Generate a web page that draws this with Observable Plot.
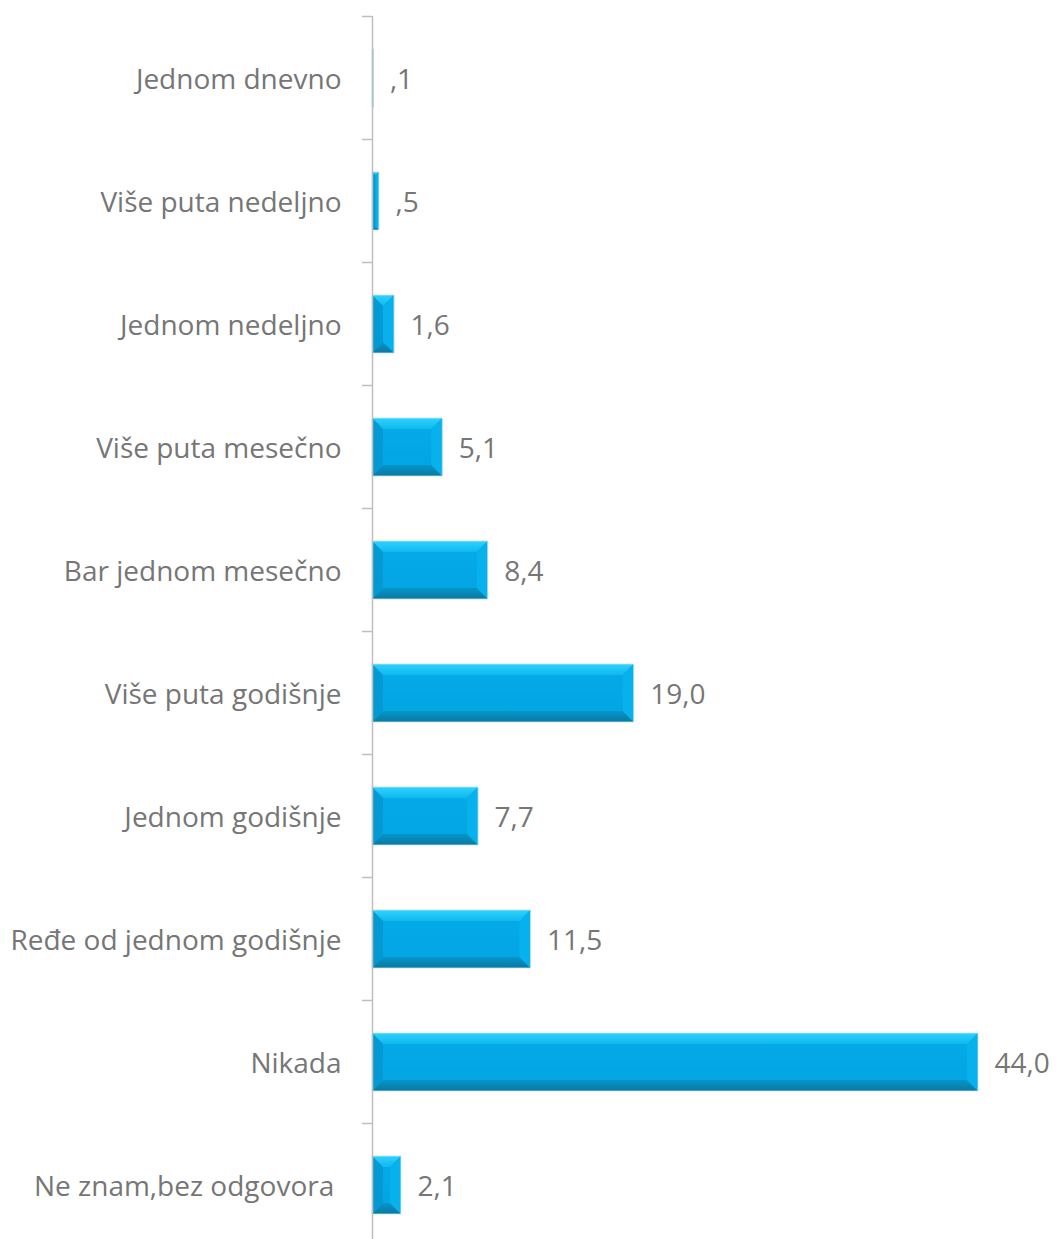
<!DOCTYPE html>
<html>
<head>
<meta charset="utf-8">
<script src="https://cdn.jsdelivr.net/npm/d3@7"></script>
<script src="https://cdn.jsdelivr.net/npm/@observablehq/plot@0.6"></script>
<style>
  html, body { margin: 0; padding: 0; background: #fff; }
  #chart svg { display: block; }
</style>
</head>
<body>
<div id="chart"></div>
<script>
const categories = [
  "Jednom dnevno",
  "Više puta nedeljno",
  "Jednom nedeljno",
  "Više puta mesečno",
  "Bar jednom mesečno",
  "Više puta godišnje",
  "Jednom godišnje",
  "Ređe od jednom godišnje",
  "Nikada",
  "Ne znam,bez odgovora\u00a0"
];
const values = [0.1, 0.5, 1.6, 5.1, 8.4, 19.0, 7.7, 11.5, 44.0, 2.1];

const data = categories.map((c, i) => ({category: c, value: values[i]}));
const fmt = v => v.toFixed(1).replace(".", ",").replace(/^0,/, ",");

const FONT = "'Open Sans', 'Noto Sans', sans-serif";
const GREY = "#767676";
const AXIS = "#bfbfbf";

function bevelRender(index, scales, vals, dimensions, context) {
  const bw = scales.y.bandwidth ? scales.y.bandwidth() : 58;
  const g = d3.create("svg:g");
  const defs = g.append("defs");
  const gt = defs.append("linearGradient").attr("id", "bvTop").attr("x1", 0).attr("x2", 0).attr("y1", 0).attr("y2", 1);
  gt.append("stop").attr("offset", "0%").attr("stop-color", "#2fd2fb");
  gt.append("stop").attr("offset", "100%").attr("stop-color", "#0fb9ef");
  const gb = defs.append("linearGradient").attr("id", "bvBot").attr("x1", 0).attr("x2", 0).attr("y1", 0).attr("y2", 1);
  gb.append("stop").attr("offset", "0%").attr("stop-color", "#0596cb");
  gb.append("stop").attr("offset", "100%").attr("stop-color", "#0a789f");
  const gf = defs.append("linearGradient").attr("id", "bvFace").attr("x1", 0).attr("x2", 0).attr("y1", 0).attr("y2", 1);
  gf.append("stop").attr("offset", "0%").attr("stop-color", "#04abe8");
  gf.append("stop").attr("offset", "100%").attr("stop-color", "#03a4e2");
  for (const i of index) {
    const x1 = Math.min(vals.x1[i], vals.x2[i]);
    const x2 = Math.max(vals.x1[i], vals.x2[i]);
    const y1 = vals.y[i];
    const y2 = y1 + bw;
    const w = x2 - x1;
    const b = Math.min(11, w / 2, bw / 2);
    const p = pts => pts.map(q => q.join(",")).join(" ");
    g.append("rect").attr("x", x1).attr("y", y1).attr("width", w).attr("height", bw).attr("fill", "url(#bvFace)");
    g.append("polygon").attr("points", p([[x1, y1], [x2, y1], [x2 - b, y1 + b], [x1 + b, y1 + b]])).attr("fill", "url(#bvTop)");
    g.append("polygon").attr("points", p([[x1, y2], [x2, y2], [x2 - b, y2 - b], [x1 + b, y2 - b]])).attr("fill", "url(#bvBot)");
    g.append("polygon").attr("points", p([[x1, y1], [x1 + b, y1 + b], [x1 + b, y2 - b], [x1, y2]])).attr("fill", "#0499d3");
    g.append("polygon").attr("points", p([[x2, y1], [x2 - b, y1 + b], [x2 - b, y2 - b], [x2, y2]])).attr("fill", "#06b1ec");
    g.append("rect").attr("x", x1).attr("y", y1).attr("width", w).attr("height", bw)
      .attr("fill", "none").attr("stroke", "#bfe3f2").attr("stroke-width", 0.8);
  }
  return g.node();
}

function ticksRender(index, scales, vals, dimensions) {
  const y0 = scales.y(categories[0]);
  const y1 = scales.y(categories[1]);
  const step = y1 - y0;
  const bw = scales.y.bandwidth ? scales.y.bandwidth() : 58;
  const start = y0 - (step - bw) / 2;
  const x0 = scales.x(0);
  const g = d3.create("svg:g").attr("stroke", AXIS).attr("stroke-width", 1.5);
  for (let k = 0; k <= categories.length; k++) {
    const yy = start + k * step;
    if (yy > dimensions.height) break;
    g.append("line").attr("x1", x0 - 10).attr("x2", x0).attr("y1", yy).attr("y2", yy);
  }
  return g.node();
}

const chart = Plot.plot({
  width: 1056,
  height: 1239,
  marginLeft: 372,
  marginRight: 78,
  marginTop: 16,
  marginBottom: 0,
  style: {fontFamily: FONT, background: "#fff"},
  x: {domain: [0, 44], axis: null},
  y: {domain: categories, range: [16.5, 1246.5], paddingInner: 0.53, paddingOuter: 0.265, axis: null},
  marks: [
    Plot.barX(data, {y: "category", x: "value", render: bevelRender}),
    Plot.ruleX([0], {stroke: AXIS, strokeWidth: 1.5}),
    Plot.ruleY([0], {y: () => categories[0], render: ticksRender}),
    Plot.axisY({tickSize: 0, tickPadding: 31, fontSize: 28, color: GREY, fill: GREY, label: null, fontFamily: FONT, dy: 1.5}),
    Plot.text(data, {y: "category", x: "value", text: d => fmt(d.value), dx: 16, dy: 1.5, textAnchor: "start", fontSize: 28, fill: GREY, fontFamily: FONT})
  ]
});
document.getElementById("chart").appendChild(chart);
</script>
</body>
</html>
